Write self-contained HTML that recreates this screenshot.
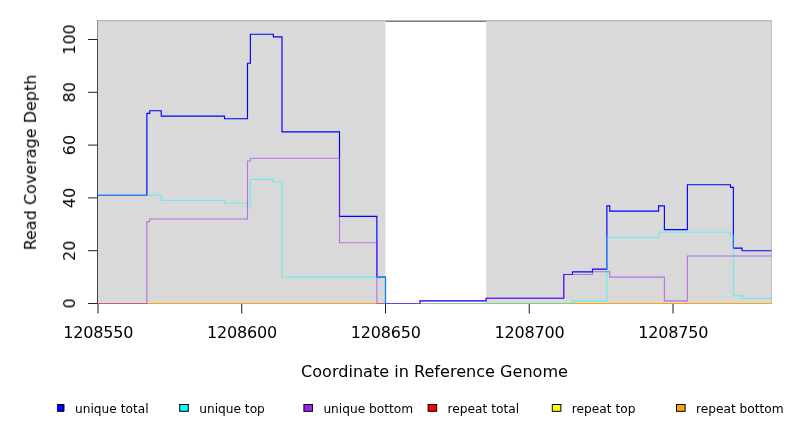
<!DOCTYPE html>
<html><head><meta charset="utf-8"><title>Read Coverage Depth</title>
<style>html,body{margin:0;padding:0;background:#fff;overflow:hidden}svg{display:block}text{will-change:transform}</style>
</head><body>
<svg width="792" height="432" viewBox="0 0 792 432">
<rect width="792" height="432" fill="#fff"/>
<rect x="97" y="20.5" width="288.50" height="283.00" fill="#d9d9d9"/>
<rect x="486.12" y="20.5" width="285.38" height="283.00" fill="#d9d9d9"/>
<g shape-rendering="crispEdges">
<rect x="97" y="20" width="675" height="1" fill="#b6b6b6"/>
<rect x="98" y="21" width="287.50" height="1" fill="#d0d0d0"/>
<rect x="486.12" y="21" width="284.88" height="1" fill="#d0d0d0"/>
<rect x="386" y="21" width="100" height="1" fill="#7c7c7c"/>
<rect x="97" y="20" width="1" height="20" fill="#8e8e8e"/>
<rect x="771" y="20" width="1" height="284" fill="#bdbdbd"/>
</g>
<g fill="none" stroke-linejoin="miter" stroke-linecap="butt">
<path d="M97.5,303.5 H771.5" stroke="#ffa500" stroke-width="1"/>
<path d="M97.50,195.26 L146.88,195.26 L146.88,113.42 L149.75,113.42 L149.75,110.78 L161.25,110.78 L161.25,116.06 L224.50,116.06 L224.50,118.70 L247.50,118.70 L247.50,63.26 L250.38,63.26 L250.38,34.22 L273.38,34.22 L273.38,36.86 L282.00,36.86 L282.00,131.90 L339.50,131.90 L339.50,216.38 L376.88,216.38 L376.88,277.10 L385.50,277.10 L385.50,303.50 L420.00,303.50 L420.00,300.86 L486.12,300.86 L486.12,298.22 L563.75,298.22 L563.75,274.46 L572.38,274.46 L572.38,271.82 L592.50,271.82 L592.50,269.18 L606.88,269.18 L606.88,205.82 L609.75,205.82 L609.75,211.10 L658.62,211.10 L658.62,205.82 L664.38,205.82 L664.38,229.58 L687.38,229.58 L687.38,184.70 L730.50,184.70 L730.50,187.34 L733.38,187.34 L733.38,248.06 L742.00,248.06 L742.00,250.70 L771.50,250.70" stroke="#0000ff" stroke-width="1.15"/>
<path d="M97.50,195.26 L161.25,195.26 L161.25,200.54 L224.50,200.54 L224.50,203.18 L247.50,203.18 L247.50,205.82 L250.38,205.82 L250.38,179.42 L273.38,179.42 L273.38,182.06 L282.00,182.06 L282.00,277.10 L385.50,277.10 L385.50,303.50 L572.38,303.50 L572.38,300.86 L606.88,300.86 L606.88,237.50 L658.62,237.50 L658.62,232.22 L730.50,232.22 L730.50,234.86 L733.38,234.86 L733.38,295.58 L742.00,295.58 L742.00,298.22 L771.50,298.22" stroke="#00ffff" stroke-opacity="0.5" stroke-width="1.1"/>
<path d="M97.50,303.50 L146.88,303.50 L146.88,221.66 L149.75,221.66 L149.75,219.02 L247.50,219.02 L247.50,160.94 L250.38,160.94 L250.38,158.30 L339.50,158.30 L339.50,242.78 L376.88,242.78 L376.88,303.50 L420.00,303.50 L420.00,300.86 L486.12,300.86 L486.12,298.22 L563.75,298.22 L563.75,274.46 L592.50,274.46 L592.50,271.82 L609.75,271.82 L609.75,277.10 L664.38,277.10 L664.38,300.86 L687.38,300.86 L687.38,255.98 L771.50,255.98" stroke="#a020f0" stroke-opacity="0.57" stroke-width="1.1"/>
</g>
<path d="M97.5,39.5 V303.5" stroke="#474747" stroke-width="1" fill="none"/>
<path d="M88,303.50 H97.5 M88,250.70 H97.5 M88,197.90 H97.5 M88,145.10 H97.5 M88,92.30 H97.5 M88,39.50 H97.5" stroke="#222" stroke-width="1" fill="none"/>
<path d="M98.00,304 V313.5 M241.75,304 V313.5 M385.50,304 V313.5 M529.25,304 V313.5 M673.00,304 V313.5" stroke="#1a1a1a" stroke-width="1" fill="none"/>
<g font-family="DejaVu Sans, Liberation Sans, sans-serif" font-size="16" fill="#000" text-anchor="middle">
<text x="98.35" y="337.6" letter-spacing="-0.18">1208550</text>
<text x="242.10" y="337.6" letter-spacing="-0.18">1208600</text>
<text x="385.85" y="337.6" letter-spacing="-0.18">1208650</text>
<text x="529.60" y="337.6" letter-spacing="-0.18">1208700</text>
<text x="673.35" y="337.6" letter-spacing="-0.18">1208750</text>
<text transform="translate(75,303.50) rotate(-90)">0</text>
<text transform="translate(75,250.70) rotate(-90)">20</text>
<text transform="translate(75,197.90) rotate(-90)">40</text>
<text transform="translate(75,145.10) rotate(-90)">60</text>
<text transform="translate(75,92.30) rotate(-90)">80</text>
<text transform="translate(75,39.50) rotate(-90)">100</text>
<text x="434.5" y="376.6" font-size="16.08">Coordinate in Reference Genome</text>
<text transform="translate(35.9,162.5) rotate(-90)">Read Coverage Depth</text>
</g>
<g font-family="DejaVu Sans, Liberation Sans, sans-serif" font-size="12.2" fill="#000">
<path d="M57,404.5 H64 V411.3 H57" fill="#0000ff" stroke="#000" stroke-width="1"/>
<text x="75.00" y="412.6">unique total</text>
<rect x="179.70" y="404.5" width="8.6" height="6.8" fill="#00ffff" stroke="#000" stroke-width="1"/>
<text x="199.20" y="412.6">unique top</text>
<rect x="303.90" y="404.5" width="8.6" height="6.8" fill="#a020f0" stroke="#000" stroke-width="1"/>
<text x="323.40" y="412.6">unique bottom</text>
<rect x="428.10" y="404.5" width="8.6" height="6.8" fill="#ff0000" stroke="#000" stroke-width="1"/>
<text x="447.60" y="412.6">repeat total</text>
<rect x="552.30" y="404.5" width="8.6" height="6.8" fill="#ffff00" stroke="#000" stroke-width="1"/>
<text x="571.80" y="412.6">repeat top</text>
<rect x="676.50" y="404.5" width="8.6" height="6.8" fill="#ffa500" stroke="#000" stroke-width="1"/>
<text x="696.00" y="412.6">repeat bottom</text>
</g>
<rect x="419" y="403" width="2" height="1" fill="#e4e4e4"/>
</svg>
</body></html>
